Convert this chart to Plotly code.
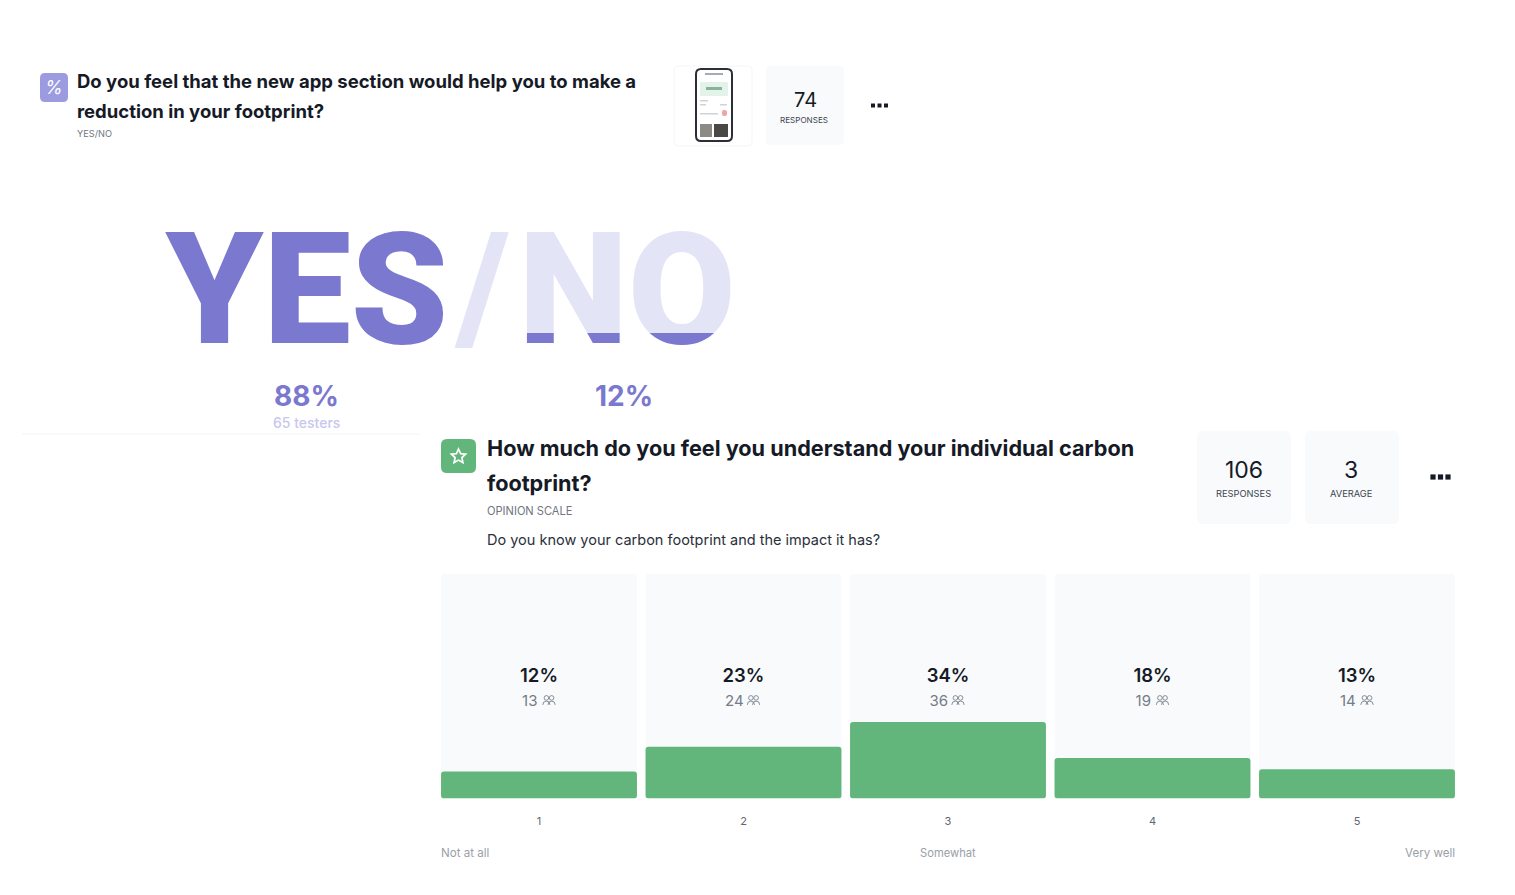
import math
import plotly.graph_objects as go

W, H = 1515, 895

# ---- data ----
scale_points = [1, 2, 3, 4, 5]
scale_pct = [12, 23, 34, 18, 13]
scale_counts = [13, 24, 36, 19, 14]
scale_anchors = ["Not at all", "Somewhat", "Very well"]
yes_pct = 88
no_pct = 12
yes_testers = 65
q1_responses = 74
q2_responses = 106
q2_average = 3

# ---- colours ----
PURPLE = "#7a78cf"
LILAC = "#e4e4f7"
GREEN = "#63b67b"
TILE = "#f8fafc"
INK = "#151a26"
GREY = "#6f7680"
FONT = "Inter"


def px(x):
    return x / W


def py(y):
    return 1 - y / H


shapes = []
annotations = []


def label(x, y, text, size, color=INK, anchor="left", weight=400, family=FONT):
    shift = {"left": -2, "right": 2, "center": 0}[anchor]
    annotations.append(dict(
        x=px(x + shift), y=py(y), xref="paper", yref="paper", text=text, showarrow=False,
        xanchor=anchor, yanchor="middle", align=anchor,
        font=dict(size=size, color=color, family=family, weight=weight),
    ))


def rrect(x0, y0, x1, y1, r, fill, line=None, lw=1):
    d = (f"M{px(x0+r)},{py(y0)} L{px(x1-r)},{py(y0)} "
         f"Q{px(x1)},{py(y0)} {px(x1)},{py(y0+r)} L{px(x1)},{py(y1-r)} "
         f"Q{px(x1)},{py(y1)} {px(x1-r)},{py(y1)} L{px(x0+r)},{py(y1)} "
         f"Q{px(x0)},{py(y1)} {px(x0)},{py(y1-r)} L{px(x0)},{py(y0+r)} "
         f"Q{px(x0)},{py(y0)} {px(x0+r)},{py(y0)} Z")
    shapes.append(dict(type="path", xref="paper", yref="paper", path=d, fillcolor=fill,
                       line=dict(color=line or "rgba(0,0,0,0)", width=lw), layer="below"))


def circle(cx, cy, r, fill, line=None, lw=1):
    shapes.append(dict(type="circle", xref="paper", yref="paper",
                       x0=px(cx-r), x1=px(cx+r), y0=py(cy+r), y1=py(cy-r),
                       fillcolor=fill, line=dict(color=line or "rgba(0,0,0,0)", width=lw)))


def people(cx, cy, color="#7b828c"):
    for dx in (-2.6, 2.6):
        circle(cx+dx, cy-2.6, 2.3, "rgba(0,0,0,0)", color, 0.9)
        x0, x1 = cx+dx-3.6, cx+dx+3.6
        d = (f"M{px(x0)},{py(cy+4.4)} Q{px(x0)},{py(cy+0.6)} {px(cx+dx)},{py(cy+0.6)} "
             f"Q{px(x1)},{py(cy+0.6)} {px(x1)},{py(cy+4.4)}")
        shapes.append(dict(type="path", xref="paper", yref="paper", path=d,
                           line=dict(color=color, width=0.9)))


def dots(cx, cy, step, r):
    for k in (-1, 0, 1):
        x = cx + k*step
        shapes.append(dict(type="rect", xref="paper", yref="paper", x0=px(x-r), x1=px(x+r),
                           y0=py(cy+r), y1=py(cy-r), fillcolor=INK, line_width=0))


def star_outline(cx, cy, ro, ri, color, lw):
    pts = []
    for k in range(10):
        r = ro if k % 2 == 0 else ri
        a = -math.pi/2 + k*math.pi/5
        pts.append((cx + r*math.cos(a), cy + r*math.sin(a)))
    d = "M" + " L".join(f"{px(a)},{py(b)}" for a, b in pts) + " Z"
    shapes.append(dict(type="path", xref="paper", yref="paper", path=d,
                       line=dict(color=color, width=lw)))


# ---- question 1 header ----
rrect(40, 73, 68, 102, 5, "#9d9be0")
label(54, 87.5, "<i>%</i>", 18, "#ffffff", "center", 400)
label(77, 81, "Do you feel that the new app section would help you to make a", 18.5, weight=700)
label(77, 111, "reduction in your footprint?", 18.5, weight=700)
label(77, 133, "YES/NO", 9.2, GREY)

# thumbnail
rrect(674, 66, 752, 146, 4, "#ffffff", "#f5f6f8")
rrect(696, 69, 732, 141, 5, "#ffffff", "#2b2e36", 2)
rrect(700, 82, 728, 96, 1, "#e3f3e9")
rrect(706, 87, 722, 90, 0, "#88b39a")
rrect(705, 73, 723, 75, 0, "#a7aab0")
for yy, xe in ((100, 708), (104, 706), (113, 718)):
    rrect(700, yy, xe, yy+1.5, 0, "#cfd2d6")
rrect(720, 104, 727, 105.5, 0, "#cfd2d6")
rrect(700, 124, 712, 137, 0, "#8d8985")
rrect(714, 124, 728, 137, 0, "#4a4747")
rrect(722, 110, 727, 116, 2, "#eda6a6")

# responses card
rrect(766, 66, 844, 145, 5, TILE)
label(805, 100, str(q1_responses), 20, INK, "center")
label(804.5, 120, "RESPONSES", 8.1, "#3f4650", "center")
dots(879.5, 105.5, 6.5, 2)

# ---- yes/no ----
label(306, 395.5, f"{yes_pct}%", 28, PURPLE, "center", 700)
label(306, 422.5, f"{yes_testers} testers", 14, "#c8c7ec", "center", 500)
label(624, 395.5, f"{no_pct}%", 28, PURPLE, "center", 700)
shapes.append(dict(type="line", xref="paper", yref="paper", x0=px(22), x1=px(420),
                   y0=py(434), y1=py(434), line=dict(color="#f1f4f7", width=1)))

# ---- question 2 header ----
rrect(441, 439, 476, 473, 6, GREEN)
star_outline(458.5, 456.5, 7.5, 3.6, "#ffffff", 1.7)
label(487, 448, "How much do you feel you understand your individual carbon", 21.65, weight=700)
label(487, 483, "footprint?", 21.65, weight=700)
label(487, 510.5, "OPINION SCALE", 11.1, GREY)
label(487, 539.5, "Do you know your carbon footprint and the impact it has?", 14.5, "#2a303a")

rrect(1197, 431, 1291, 524, 6, TILE)
label(1244, 470, str(q2_responses), 23, INK, "center")
label(1243.5, 493, "RESPONSES", 9.3, "#3f4650", "center")
rrect(1305, 431, 1399, 524, 6, TILE)
label(1351, 470, str(q2_average), 23, INK, "center")
label(1351, 493, "AVERAGE", 9.3, "#3f4650", "center")
dots(1440.5, 477, 7.5, 2.6)

# anchors
label(441.5, 852.5, scale_anchors[0], 11.6, "#9aa0a8")
label(948, 852.5, scale_anchors[1], 11.2, "#9aa0a8", "center")
label(1454.5, 852.5, scale_anchors[2], 11.6, "#9aa0a8", "right")

fig = go.Figure()

# ---- opinion scale bars (library scales) ----
fig.add_trace(go.Bar(x=scale_points, y=[100]*5, marker=dict(color=TILE, cornerradius=4, line_width=0),
                     width=0.958, showlegend=False, hoverinfo="skip"))
fig.add_trace(go.Bar(x=scale_points, y=[-p for p in scale_pct], base=scale_pct,
                     marker=dict(color=GREEN, cornerradius=3, line_width=0),
                     width=0.958, showlegend=False, hoverinfo="skip"))
fig.add_trace(go.Scatter(x=scale_points, y=[54]*5, mode="text",
                         text=[f"{p}%" for p in scale_pct],
                         textfont=dict(size=18.5, color=INK, family=FONT, weight=600),
                         showlegend=False, hoverinfo="skip"))
fig.add_trace(go.Scatter(x=[x-0.045 for x in scale_points], y=[43]*5, mode="text",
                         text=[str(c) for c in scale_counts],
                         textfont=dict(size=15, color="#757c86", family=FONT),
                         showlegend=False, hoverinfo="skip"))

# people icons beside each count
pitch = 204.5
for i in range(5):
    people(539 + i*pitch + 10, 700.5)

# ---- big word: base layer and clipped fill layer (pixel-unit overlay axes) ----
WORD = dict(family="Roboto", weight=900)
big_x = {"YES": 307, "/": 483, "NO": 627}
big_y = 304
big_size = 156
fig.add_trace(go.Scatter(x=[big_x["YES"]], y=[big_y], mode="text", text=["YES"], xaxis="x2", yaxis="y2",
                         textfont=dict(size=big_size, color=PURPLE, **WORD), showlegend=False, hoverinfo="skip"))
fig.add_trace(go.Scatter(x=[big_x["/"]], y=[big_y-3], mode="text", text=["/"], xaxis="x2", yaxis="y2",
                         textfont=dict(size=150, color=LILAC, **WORD), showlegend=False, hoverinfo="skip"))
fig.add_trace(go.Scatter(x=[big_x["NO"]], y=[big_y], mode="text", text=["NO"], xaxis="x2", yaxis="y2",
                         textfont=dict(size=big_size, color=LILAC, **WORD), showlegend=False, hoverinfo="skip"))
fig.add_trace(go.Scatter(x=[big_x["NO"]], y=[big_y], mode="text", text=["NO"], xaxis="x3", yaxis="y3",
                         textfont=dict(size=big_size, color=PURPLE, **WORD), showlegend=False, hoverinfo="skip",
                         cliponaxis=True))

clip_top, clip_bot = 333, 350
fig.update_layout(
    width=W, height=H, margin=dict(l=0, r=0, t=0, b=0),
    paper_bgcolor="#ffffff", plot_bgcolor="rgba(0,0,0,0)",
    barmode="overlay", font=dict(family=FONT),
    xaxis=dict(domain=[px(436.75), px(1459.25)], range=[0.5, 5.5], tickvals=scale_points,
               ticktext=[str(v) for v in scale_points], ticks="outside", ticklen=12,
               tickcolor="rgba(0,0,0,0)", showgrid=False, zeroline=False, showline=False,
               tickfont=dict(size=11, color="#5f6670", family=FONT), fixedrange=True),
    yaxis=dict(domain=[py(798.5), py(573.5)], range=[0, 100], visible=False, fixedrange=True),
    xaxis2=dict(domain=[0, 1], range=[0, W], visible=False, anchor="y2"),
    yaxis2=dict(domain=[0, 1], range=[H, 0], visible=False, anchor="x2"),
    xaxis3=dict(domain=[0, 1], range=[0, W], visible=False, anchor="y3"),
    yaxis3=dict(domain=[py(clip_bot), py(clip_top)], range=[clip_bot, clip_top], visible=False, anchor="x3"),
    shapes=shapes, annotations=annotations,
)

fig.write_html("out.html", post_script="document.body.style.margin='0';",
               config=dict(displayModeBar=False))
